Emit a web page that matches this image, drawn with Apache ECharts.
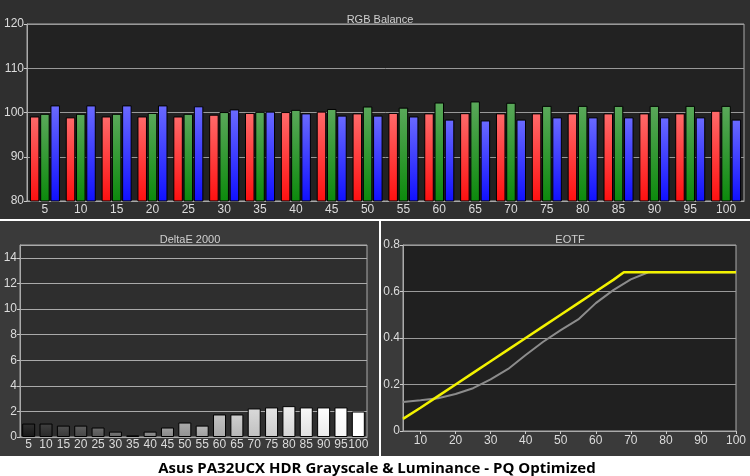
<!DOCTYPE html>
<html>
<head>
<meta charset="utf-8">
<script src="https://cdn.jsdelivr.net/npm/echarts@6/dist/echarts.min.js"></script>
<style>
  html, body { margin: 0; padding: 0; background: #fff; }
  #chart { width: 750px; height: 476px; }
</style>
</head>
<body>
<div id="chart"></div>
<script>
// 灰阶点 (%)
const levels = ['5', '10', '15', '20', '25', '30', '35', '40', '45', '50', '55', '60', '65', '70', '75', '80', '85', '90', '95', '100'];

// RGB Balance
const redBal   = [99.1, 98.9, 99.1, 99.1, 99.1, 99.5, 99.9, 100.1, 100.2, 99.8, 99.9, 99.8, 99.85, 99.8, 99.8, 99.8, 99.8, 99.8, 99.8, 100.4];
const greenBal = [99.7, 99.7, 99.7, 99.9, 99.7, 100.1, 100.15, 100.6, 100.8, 101.35, 101.1, 102.25, 102.5, 102.2, 101.5, 101.5, 101.5, 101.5, 101.5, 101.5];
const blueBal  = [101.6, 101.6, 101.6, 101.6, 101.4, 100.7, 100.2, 99.8, 99.3, 99.3, 99.1, 98.4, 98.2, 98.4, 98.9, 98.9, 98.9, 98.9, 98.9, 98.4];

// DeltaE 2000
const deltaE = [1.05, 1.05, 0.89, 0.89, 0.74, 0.42, 0.13, 0.42, 0.74, 1.13, 0.89, 1.76, 1.76, 2.23, 2.31, 2.41, 2.31, 2.31, 2.31, 1.99];

// EOTF
const eotfTicks = [10, 20, 30, 40, 50, 60, 70, 80, 90, 100];
const targetX = [5, 10, 15, 20, 25, 30, 35, 40, 45, 50, 55, 60, 65, 68, 70, 75, 80, 85, 90, 95, 100];
const targetY = [0.052, 0.100, 0.150, 0.200, 0.250, 0.300, 0.350, 0.400, 0.450, 0.500, 0.550, 0.600, 0.650, 0.683, 0.683, 0.683, 0.683, 0.683, 0.683, 0.683, 0.683];
const measX = [5, 10, 15, 20, 25, 30, 35, 40, 45, 50, 55, 60, 65, 70, 75, 80, 85, 90, 95, 100];
const measY = [0.125, 0.132, 0.141, 0.159, 0.184, 0.222, 0.267, 0.327, 0.384, 0.434, 0.480, 0.550, 0.606, 0.652, 0.683, 0.683, 0.683, 0.683, 0.683, 0.683];

const FONT = 'Liberation Sans';
const labelStyle = { color: '#dcdcdc', fontSize: 12, fontFamily: FONT };

function grad(top, bottom) {
    return new echarts.graphic.LinearGradient(0, 0, 0, 1, [
        { offset: 0, color: top },
        { offset: 1, color: bottom }
    ]);
}

// 灰阶柱颜色跟随刺激电平
function grayFor(level) {
    const g = Math.round(255 * Math.pow(level / 100, 0.8));
    const hi = Math.min(255, g + 25);
    return grad(`rgb(${hi},${hi},${hi})`, `rgb(${g},${g},${g})`);
}

function rgbBar(name, data, top, bottom) {
    return {
        name, type: 'bar', xAxisIndex: 0, yAxisIndex: 0,
        data, barWidth: 9.5, barGap: '8%',
        itemStyle: { color: grad(top, bottom), borderColor: '#000', borderWidth: 1 }
    };
}

const chart = echarts.init(document.getElementById('chart'), null, { renderer: 'canvas' });

const option = {
    animation: false,
    backgroundColor: '#fff',
    graphic: [
        { type: 'rect', z: -10, shape: { x: 0, y: 0, width: 750, height: 219 }, style: { fill: '#2f2f2f' } },
        { type: 'rect', z: -10, shape: { x: 0, y: 221, width: 379, height: 235 }, style: { fill: '#3a3a3a' } },
        { type: 'rect', z: -10, shape: { x: 381, y: 221, width: 369, height: 235 }, style: { fill: '#3a3a3a' } }
    ],
    title: [
        { text: 'RGB Balance', left: 375, top: 9, textAlign: 'center', textStyle: { color: '#d0d0d0', fontSize: 11, fontWeight: 'normal', fontFamily: FONT } },
        { text: 'DeltaE 2000', left: 185, top: 229, textAlign: 'center', textStyle: { color: '#d0d0d0', fontSize: 11, fontWeight: 'normal', fontFamily: FONT } },
        { text: 'EOTF', left: 565, top: 229, textAlign: 'center', textStyle: { color: '#d0d0d0', fontSize: 11, fontWeight: 'normal', fontFamily: FONT } },
        { text: 'Asus PA32UCX HDR Grayscale & Luminance - PQ Optimized', left: 372, top: 456, textAlign: 'center', textStyle: { color: '#000', fontSize: 15, fontWeight: 'bold', fontFamily: 'Open Sans' } }
    ],
    grid: [
        { left: 27, top: 24, right: 6, bottom: 275, show: true, backgroundColor: '#222', borderColor: '#aaa', borderWidth: 1 },
        { left: 20, top: 245, right: 383, bottom: 39, show: true, backgroundColor: '#2e2e2e', borderColor: '#aaa', borderWidth: 1 },
        { left: 403, top: 245, right: 14, bottom: 45, show: true, backgroundColor: '#202020', borderColor: '#aaa', borderWidth: 1 }
    ],
    xAxis: [
        {
            type: 'category', gridIndex: 0, data: levels,
            axisLine: { lineStyle: { color: '#aaa' } },
            axisTick: { length: 3, lineStyle: { color: '#ccc' } },
            axisLabel: Object.assign({ margin: 3, interval: 0 }, labelStyle)
        },
        {
            type: 'category', gridIndex: 1, data: levels,
            axisLine: { lineStyle: { color: '#aaa' } },
            axisTick: { length: 3, lineStyle: { color: '#ccc' } },
            axisLabel: Object.assign({ margin: 2, interval: 0 }, labelStyle)
        },
        {
            type: 'value', gridIndex: 2, min: 5, max: 100,
            axisLine: { lineStyle: { color: '#aaa' } },
            axisTick: { length: 3, customValues: eotfTicks, lineStyle: { color: '#ccc' } },
            axisLabel: Object.assign({ margin: 4, customValues: eotfTicks }, labelStyle),
            splitLine: { show: false }
        }
    ],
    yAxis: [
        {
            type: 'value', gridIndex: 0, min: 80, max: 120, interval: 10,
            axisLine: { show: true, lineStyle: { color: '#aaa' } },
            axisTick: { show: true, length: 3, lineStyle: { color: '#ccc' } },
            axisLabel: Object.assign({ margin: 3 }, labelStyle),
            splitLine: { lineStyle: { color: '#999' } }
        },
        {
            type: 'value', gridIndex: 1, min: 0, max: 15, interval: 2,
            axisLine: { show: true, lineStyle: { color: '#aaa' } },
            axisTick: { show: true, length: 3, lineStyle: { color: '#ccc' } },
            axisLabel: Object.assign({ margin: 3, showMaxLabel: false }, labelStyle),
            splitLine: { lineStyle: { color: '#aaa' } }
        },
        {
            type: 'value', gridIndex: 2, min: 0, max: 0.8, interval: 0.2,
            axisLine: { show: true, lineStyle: { color: '#aaa' } },
            axisTick: { show: true, length: 3, lineStyle: { color: '#ccc' } },
            axisLabel: Object.assign({ margin: 3 }, labelStyle),
            splitLine: { lineStyle: { color: '#9a9a9a' } }
        }
    ],
    series: [
        rgbBar('Red', redBal, '#ff6a6a', '#ff1010'),
        rgbBar('Green', greenBal, '#5aa85a', '#0c8a0c'),
        rgbBar('Blue', blueBal, '#6a6aff', '#1010ff'),
        {
            name: 'DeltaE', type: 'bar', xAxisIndex: 1, yAxisIndex: 1,
            barWidth: 13,
            data: deltaE.map((v, i) => ({
                value: v,
                itemStyle: { color: grayFor(+levels[i]), borderColor: '#000', borderWidth: 1 }
            }))
        },
        {
            name: 'Measured', type: 'line', xAxisIndex: 2, yAxisIndex: 2,
            data: measX.map((x, i) => [x, measY[i]]),
            symbol: 'none', lineStyle: { color: '#8c8c8c', width: 2 }
        },
        {
            name: 'Target', type: 'line', xAxisIndex: 2, yAxisIndex: 2,
            data: targetX.map((x, i) => [x, targetY[i]]),
            symbol: 'none', lineStyle: { color: '#f2f200', width: 2.5 }
        }
    ]
};

chart.setOption(option);
</script>
</body>
</html>
